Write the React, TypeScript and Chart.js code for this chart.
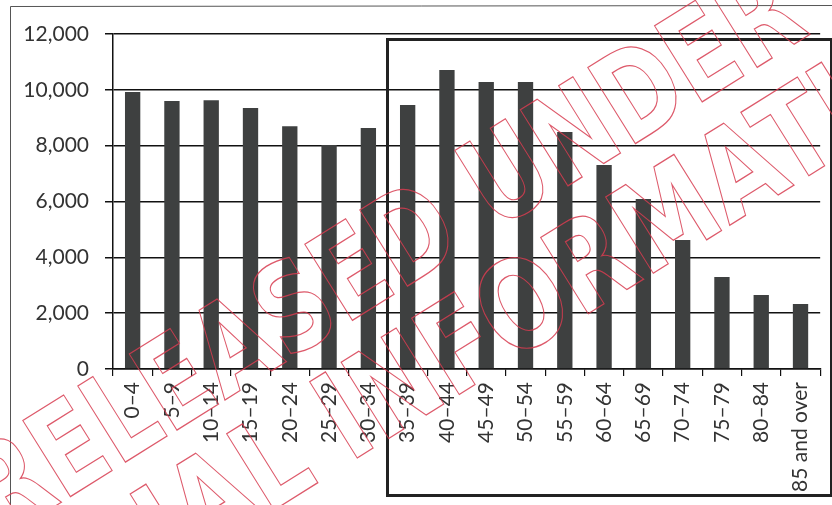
import React, { useEffect, useRef } from "react";
import { Chart, registerables } from "chart.js";

Chart.register(...registerables);

const categories = [
  "0–4", "5–9", "10–14", "15–19", "20–24", "25–29", "30–34", "35–39", "40–44",
  "45–49", "50–54", "55–59", "60–64", "65–69", "70–74", "75–79", "80–84", "85 and over",
];
const population = [
  9920, 9600, 9630, 9350, 8700, 8020, 8630, 9460, 10710,
  10280, 10280, 8490, 7310, 6090, 4620, 3300, 2650, 2330,
];
const yMax = 12000;
const yStep = 2000;
const stampLine1 = "RELEASED UNDER THE";
const stampLine2 = "OFFICIAL INFORMATION ACT";

const decorPlugin = {
  id: "decor",
  afterDraw(chart: any) {
    const ctx = chart.ctx;
    ctx.save();
    // outer thin frame of the scanned page
    ctx.strokeStyle = "#555";
    ctx.lineWidth = 1;
    ctx.beginPath();
    ctx.moveTo(10.5, 505);
    ctx.lineTo(10.5, 6.5);
    ctx.lineTo(832, 5.5);
    ctx.stroke();
    // thick highlight rectangle
    ctx.strokeStyle = "#222";
    ctx.lineWidth = 3;
    ctx.strokeRect(387.5, 39.5, 444, 456);
    // red stamp outline text
    ctx.strokeStyle = "rgba(215,60,80,0.85)";
    ctx.font = "bold 108px 'DejaVu Sans'";
    ctx.textBaseline = "alphabetic";
    const ang = (32 * Math.PI) / 180;
    const drawLine = (text: string, x: number, y: number, sx: number) => {
      ctx.save();
      ctx.translate(x, y);
      ctx.rotate(-ang);
      ctx.scale(sx, 1.14);
      ctx.lineWidth = 1.1;
      ctx.strokeText(text, 0, 0);
      ctx.restore();
    };
    drawLine(stampLine1, 1, 540, 0.88);
    drawLine(stampLine2, -110, 750, 0.92);
    ctx.restore();
  },
};

export default function App() {
  const ref = useRef<HTMLCanvasElement>(null);
  useEffect(() => {
    document.body.style.margin = "0";
    const chart = new Chart(ref.current!, {
      type: "bar",
      data: {
        labels: categories,
        datasets: [
          {
            data: population,
            backgroundColor: "#3e4040",
            borderWidth: 0,
            categoryPercentage: 0.78,
            barPercentage: 0.5,
          },
        ],
      },
      options: {
        animation: false,
        responsive: false,
        devicePixelRatio: 1,
        layout: { padding: { left: 0, right: 10, top: 34, bottom: 0 } },
        plugins: { legend: { display: false }, tooltip: { enabled: false } },
        scales: {
          x: {
            offset: true,
            grid: {
              display: true,
              drawOnChartArea: false,
              drawTicks: true,
              tickLength: 7,
              color: "#111",
              lineWidth: 1.2,
              offset: true,
            },
            border: { display: true, color: "#111", width: 1.5 },
            ticks: {
              minRotation: 90,
              maxRotation: 90,
              autoSkip: false,
              padding: 6,
              color: "#333",
              font: { family: "Lato", size: 21 },
            },
            afterFit(scale: any) {
              scale.height = 136;
            },
          },
          y: {
            min: 0,
            max: yMax,
            ticks: {
              stepSize: yStep,
              padding: 16,
              color: "#333",
              font: { family: "Lato", size: 21 },
              callback: (v: any) => Number(v).toLocaleString("en-US"),
            },
            grid: { color: "#111", lineWidth: 1.5, tickLength: 8 },
            border: { display: true, color: "#111", width: 1.5 },
            afterFit(scale: any) {
              scale.width = 113;
            },
          },
        },
      },
      plugins: [decorPlugin],
    });
    return () => chart.destroy();
  }, []);
  return (
    <div style={{ position: "absolute", left: 0, top: 0, width: 832, height: 505, background: "#fff" }}>
      <canvas ref={ref} width={832} height={505} style={{ width: 832, height: 505 }} />
    </div>
  );
}
